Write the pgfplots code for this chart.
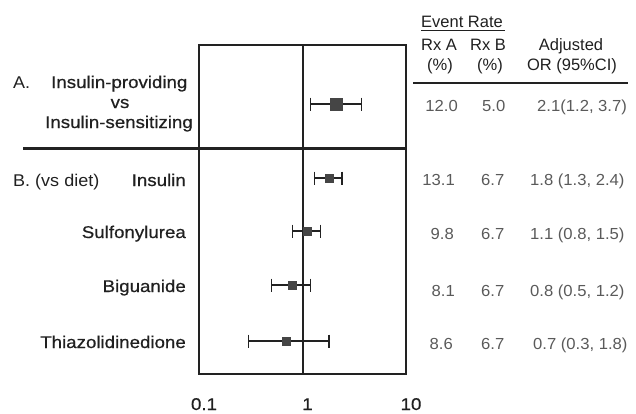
\documentclass[border=0pt]{standalone}
\usepackage{pgfplots}
\pgfplotsset{compat=1.18}
\usepackage{fontspec}
\setmainfont{Liberation Sans}
\newfontfamily\labfont[FakeStretch=1.1, FakeBold=0.6]{Liberation Sans}
\newfontfamily\plainfont[FakeStretch=1.06]{Liberation Sans}
\newfontfamily\numfont[FakeStretch=1.04]{Liberation Sans}
\newcommand{\lab}{\labfont\fontsize{17bp}{20bp}\selectfont}
\newcommand{\plab}{\plainfont\fontsize{17bp}{20bp}\selectfont}
\newcommand{\hdr}{\fontsize{16.5bp}{19bp}\selectfont}
\newcommand{\num}{\numfont\fontsize{16bp}{19bp}\selectfont}
\definecolor{ln}{HTML}{222222}
\definecolor{sq}{HTML}{454545}
\definecolor{nm}{HTML}{5A5A5A}
\definecolor{tx}{HTML}{202020}
\begin{document}
\begin{tikzpicture}[x=1bp,y=1bp]
\path[use as bounding box] (0,0) rectangle (636,-413);
\begin{axis}[at={(199bp,-374bp)}, anchor=south west, scale only axis,
  width=207bp, height=329bp, xmode=log, xmin=0.1, xmax=10, ymin=-374, ymax=-45,
  ytick=\empty, xtick={0.1,1,10}, xticklabels={0.1,1,10},
  major tick length=0, minor tick length=0, xminorticks=false,
  axis line style={line width=2bp, color=ln}, clip=false,
  xticklabel style={font=\lab, text=tx, anchor=base, yshift=-36bp, xshift=5bp}]
\addplot[line width=2bp, ln] coordinates {(1,-374) (1,-45)};
% CIs
\addplot[line width=1.5bp, ln, mark=|, mark size=6.5bp, mark options={line width=1.5bp}] coordinates {(1.2,-104) (3.7,-104)};
\addplot[line width=1.5bp, ln, mark=|, mark size=6.5bp, mark options={line width=1.5bp}] coordinates {(1.3,-178) (2.4,-178)};
\addplot[line width=1.5bp, ln, mark=|, mark size=6.5bp, mark options={line width=1.5bp}] coordinates {(0.8,-231) (1.5,-231)};
\addplot[line width=1.5bp, ln, mark=|, mark size=6.5bp, mark options={line width=1.5bp}] coordinates {(0.5,-285) (1.2,-285)};
\addplot[line width=1.5bp, ln, mark=|, mark size=6.5bp, mark options={line width=1.5bp}] coordinates {(0.3,-341) (1.8,-341)};
% point estimates
\addplot[only marks, mark=square*, mark size=6bp, mark options={fill=sq, draw=sq}] coordinates {(2.1,-104)};
\addplot[only marks, mark=square*, mark size=4bp, mark options={fill=sq, draw=sq}] coordinates {(1.8,-178) (1.1,-231) (0.8,-285) (0.7,-341)};
\end{axis}
\draw[line width=3bp, ln] (23,-148) -- (406,-148);
% left labels
\begin{scope}[every node/.style={inner sep=0pt, font=\lab, text=tx}]
\node[anchor=base west, font=\plab] at (13,-88) {A.};
\node[anchor=base west] at (51,-88) {Insulin-providing};
\node[anchor=base] at (120,-108) {vs};
\node[anchor=base west] at (45,-128) {Insulin-sensitizing};
\node[anchor=base west, font=\plab] at (13,-186) {B. (vs diet)};
\node[anchor=base east] at (186,-186) {Insulin};
\node[anchor=base east] at (186,-238) {Sulfonylurea};
\node[anchor=base east] at (186,-292) {Biguanide};
\node[anchor=base east] at (186,-348) {Thiazolidinedione};
\end{scope}
% header
\begin{scope}[every node/.style={inner sep=0pt, font=\hdr, text=tx}]
\node[anchor=base west] at (421,-27) {Event Rate};
\node[anchor=base west] at (421,-50) {Rx A};
\node[anchor=base west] at (470,-50) {Rx B};
\node[anchor=base] at (440,-70) {(\%)};
\node[anchor=base] at (490,-70) {(\%)};
\node[anchor=base] at (571,-50) {Adjusted};
\node[anchor=base] at (572,-70) {OR (95\%CI)};
\end{scope}
\draw[line width=1bp, tx] (421,-30) -- (505,-30);
\draw[line width=1.5bp, ln] (413,-83) -- (628,-83);
% numbers
\begin{scope}[every node/.style={inner sep=0pt, font=\num, text=nm}]
\node[anchor=base east] at (458,-111) {12.0};
\node[anchor=base west] at (482,-111) {5.0};
\node[anchor=base west] at (537,-111) {2.1(1.2, 3.7)};
\node[anchor=base east] at (455,-185) {13.1};
\node[anchor=base west] at (481,-185) {6.7};
\node[anchor=base west] at (530,-185) {1.8 (1.3, 2.4)};
\node[anchor=base east] at (454,-239) {9.8};
\node[anchor=base west] at (481,-239) {6.7};
\node[anchor=base west] at (530,-239) {1.1 (0.8, 1.5)};
\node[anchor=base east] at (455,-296) {8.1};
\node[anchor=base west] at (481,-296) {6.7};
\node[anchor=base west] at (530,-296) {0.8 (0.5, 1.2)};
\node[anchor=base east] at (453,-349) {8.6};
\node[anchor=base west] at (481,-349) {6.7};
\node[anchor=base west] at (533,-349) {0.7 (0.3, 1.8)};
\end{scope}
\end{tikzpicture}
\end{document}
